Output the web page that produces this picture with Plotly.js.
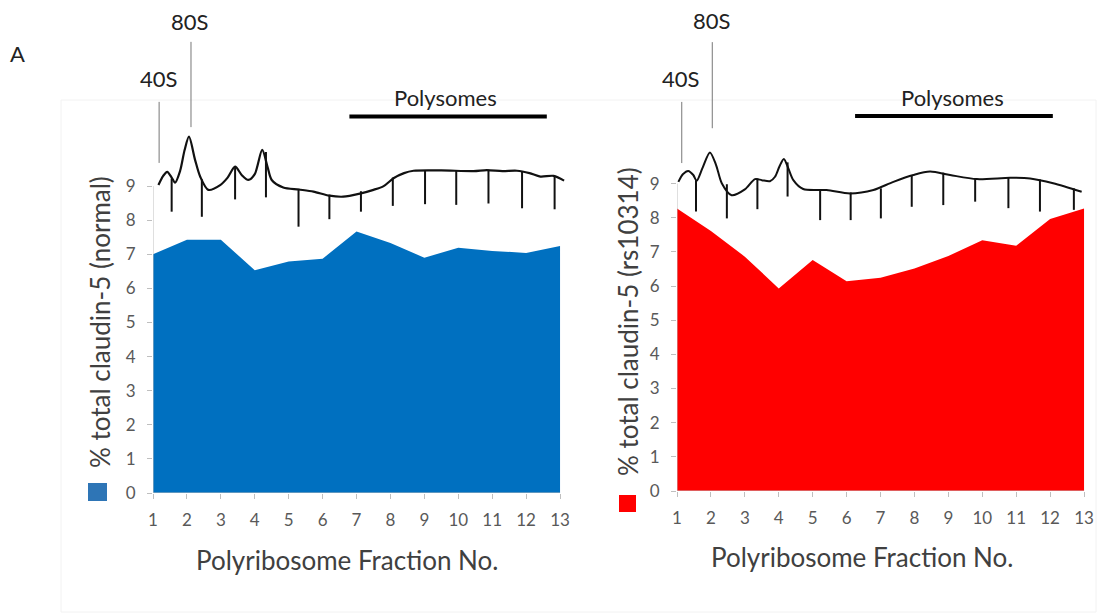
<!DOCTYPE html>
<html>
<head>
<meta charset="utf-8">
<script src="https://cdn.plot.ly/plotly-3.0.1.min.js"></script>
<style>html,body{margin:0;padding:0;background:#fff;}#chart{width:1097px;height:613px;}</style>
</head>
<body>
<div id="chart"></div>
<script>
// ---- data ----
const fractions = [1,2,3,4,5,6,7,8,9,10,11,12,13];
const xTickLabels = ['1','2','3','4','5','6','7','8','9','10','11','12','13'];
const yTickVals = [0,1,2,3,4,5,6,7,8,9];
const normalPct = [7.0, 7.43, 7.43, 6.53, 6.79, 6.87, 7.67, 7.33, 6.9, 7.19, 7.1, 7.04, 7.24];
const rsPct     = [8.27, 7.61, 6.86, 5.93, 6.76, 6.14, 6.24, 6.51, 6.88, 7.34, 7.18, 7.96, 8.27];

// absorbance profile traces (drawn on the same scale)
const profNormX = [1.16,1.30,1.42,1.55,1.65,1.80,1.93,2.06,2.24,2.39,2.63,2.98,3.20,3.42,3.62,3.81,4.00,4.22,4.38,4.50,4.84,5.30,5.73,6.20,6.61,7.10,7.50,7.80,8.09,8.40,8.68,9.50,10.45,10.84,11.30,11.73,12.10,12.42,12.81,13.12];
const profNormY = [9.03,9.30,9.42,9.25,9.10,9.45,10.05,10.45,9.77,9.28,8.89,9.03,9.25,9.57,9.32,9.18,9.35,10.06,9.55,9.18,8.96,8.90,8.84,8.72,8.69,8.78,8.89,9.00,9.23,9.38,9.45,9.46,9.44,9.47,9.44,9.45,9.38,9.28,9.30,9.16];
const profRsX = [1.04,1.18,1.33,1.48,1.58,1.75,1.97,2.15,2.32,2.61,3.00,3.30,3.50,3.74,3.89,4.02,4.15,4.28,4.43,4.72,5.41,6.10,6.79,7.38,7.97,8.46,9.05,9.84,10.82,11.41,12.09,12.93];
const profRsY = [9.05,9.28,9.37,9.25,9.08,9.45,9.91,9.55,9.01,8.66,8.83,9.13,9.10,9.07,9.20,9.50,9.72,9.45,9.10,8.84,8.81,8.71,8.81,9.05,9.25,9.35,9.25,9.13,9.17,9.15,9.01,8.76];

// fraction collection marks on the profiles
const markNormX   = [1.55,2.44,3.42,4.33,5.29,6.20,7.13,8.07,9.02,9.94,10.89,11.88,12.84];
const markNormTop = [9.22,9.20,9.57,10.0,8.92,8.75,8.85,9.25,9.47,9.46,9.48,9.44,9.30];
const markNormBot = [8.25,8.10,8.61,8.67,7.81,8.03,8.25,8.42,8.47,8.45,8.49,8.35,8.32];
const markRsX   = [1.56,2.47,3.37,4.26,5.22,6.12,7.01,7.92,8.85,9.79,10.77,11.70,12.70];
const markRsTop = [9.10,8.98,9.15,9.62,8.84,8.74,8.86,9.25,9.32,9.16,9.18,9.12,8.86];
const markRsBot = [8.18,7.98,8.25,8.62,7.93,7.93,7.98,8.32,8.37,8.47,8.28,8.18,8.23];

// polysome bars (fraction range)
const polyNormX = [6.79, 12.61];
const polyNormY = [11.04, 11.04];
const polyRsX = [6.25, 12.08];
const polyRsY = [10.98, 10.98];

// peak marker lines
const peakNorm40X = [1.18,1.18], peakNorm40Y = [11.47,9.68];
const peakNorm80X = [2.12,2.12], peakNorm80Y = [13.23,10.73];
const peakRs40X = [1.14,1.14], peakRs40Y = [11.39,9.60];
const peakRs80X = [2.04,2.04], peakRs80Y = [13.14,10.62];

// ---- helpers ----
function marks(xs, tops, bots){
  const x=[], y=[];
  xs.forEach((v,i)=>{ x.push(v,v,null); y.push(tops[i],bots[i],null); });
  return {x,y};
}
const mN = marks(markNormX, markNormTop, markNormBot);
const mR = marks(markRsX, markRsTop, markRsBot);

const FONT = "Lato, 'Open Sans', sans-serif";
const AXC = '#BFBFBF';

const traces = [
  {x:fractions, y:normalPct, type:'scatter', mode:'lines', fill:'tozeroy', fillcolor:'#0070C0', line:{width:0,color:'#0070C0'}, xaxis:'x', yaxis:'y', hoverinfo:'skip'},
  {x:fractions, y:rsPct, type:'scatter', mode:'lines', fill:'tozeroy', fillcolor:'#FF0000', line:{width:0,color:'#FF0000'}, xaxis:'x2', yaxis:'y2', hoverinfo:'skip'},
  {x:profNormX, y:profNormY, type:'scatter', mode:'lines', line:{color:'#111',width:2.2,shape:'spline',smoothing:0.8}, xaxis:'x', yaxis:'y'},
  {x:profRsX, y:profRsY, type:'scatter', mode:'lines', line:{color:'#111',width:2,shape:'spline',smoothing:0.8}, xaxis:'x2', yaxis:'y2'},
  {x:mN.x, y:mN.y, type:'scatter', mode:'lines', line:{color:'#111',width:2}, xaxis:'x', yaxis:'y', connectgaps:false},
  {x:mR.x, y:mR.y, type:'scatter', mode:'lines', line:{color:'#111',width:2}, xaxis:'x2', yaxis:'y2', connectgaps:false},
  {x:polyNormX, y:polyNormY, type:'scatter', mode:'lines', line:{color:'#000',width:4}, xaxis:'x', yaxis:'y'},
  {x:polyRsX, y:polyRsY, type:'scatter', mode:'lines', line:{color:'#000',width:4}, xaxis:'x2', yaxis:'y2'},
  {x:peakNorm40X, y:peakNorm40Y, type:'scatter', mode:'lines', line:{color:'#777',width:1}, xaxis:'x', yaxis:'y'},
  {x:peakNorm80X, y:peakNorm80Y, type:'scatter', mode:'lines', line:{color:'#777',width:1}, xaxis:'x', yaxis:'y'},
  {x:peakRs40X, y:peakRs40Y, type:'scatter', mode:'lines', line:{color:'#777',width:1}, xaxis:'x2', yaxis:'y2'},
  {x:peakRs80X, y:peakRs80Y, type:'scatter', mode:'lines', line:{color:'#777',width:1}, xaxis:'x2', yaxis:'y2'}
];

const W=1097, H=613;
const px = v => v/W, py = v => 1 - v/H;

const xCommon = {tickvals:fractions, ticktext:xTickLabels, ticks:'outside', ticklen:5, tickcolor:AXC, tickwidth:1,
  showline:false, showgrid:false, zeroline:false, tickfont:{family:FONT,size:17,color:'#595959'}, ticklabelstandoff:7, fixedrange:true};
const yCommon = {tickvals:yTickVals, ticks:'outside', ticklen:5, tickcolor:AXC, tickwidth:1,
  showline:false, showgrid:false, zeroline:false, tickfont:{family:FONT,size:17,color:'#595959'}, ticklabelstandoff:8, fixedrange:true};

function ann(o){ return Object.assign({showarrow:false, xanchor:'center', yanchor:'middle'}, o); }
const labFont = {family:FONT,size:22,color:'#222'};
const titleFont = {family:FONT,size:26,color:'#404040'};

const layout = {
  width:W, height:H,
  margin:{l:0,r:0,t:0,b:0},
  paper_bgcolor:'#fff', plot_bgcolor:'rgba(0,0,0,0)',
  showlegend:false,
  font:{family:FONT},
  xaxis: Object.assign({}, xCommon, {domain:[px(153), px(580)], range:[1, 1+(580-153)/33.92], anchor:'y'}),
  yaxis: Object.assign({}, yCommon, {domain:[py(493), 1], range:[0, 493/34.1], anchor:'x'}),
  xaxis2: Object.assign({}, xCommon, {domain:[px(677), 1], range:[1, 1+(1097-677)/33.92], anchor:'y2'}),
  yaxis2: Object.assign({}, yCommon, {domain:[py(491), 1], range:[0, 491/34.16], anchor:'x2'}),
  shapes:[
    {type:'rect', xref:'paper', yref:'paper', x0:px(61), x1:px(1096), y0:py(100), y1:py(612), line:{color:'#F2F2F2',width:1}, fillcolor:'rgba(0,0,0,0)', layer:'below'},
    {type:'line', xref:'x', yref:'y', x0:1, x1:1, y0:0, y1:9, line:{color:AXC,width:1}},
    {type:'line', xref:'x', yref:'y', x0:1, x1:13, y0:0, y1:0, line:{color:AXC,width:1}},
    {type:'line', xref:'x2', yref:'y2', x0:1, x1:1, y0:0, y1:9, line:{color:AXC,width:1}},
    {type:'line', xref:'x2', yref:'y2', x0:1, x1:13, y0:0, y1:0, line:{color:AXC,width:1}},
    {type:'rect', xref:'paper', yref:'paper', x0:px(88), x1:px(107), y0:py(501), y1:py(483), fillcolor:'#2E75B6', line:{width:0}},
    {type:'rect', xref:'paper', yref:'paper', x0:px(619), x1:px(636), y0:py(512), y1:py(495), fillcolor:'#FF0000', line:{width:0}}
  ],
  annotations:[
    ann({text:'A', xref:'paper', yref:'paper', x:px(17), y:py(53), font:labFont}),
    ann({text:'40S', xref:'x', yref:'y', x:1.15, y:12.17, font:labFont}),
    ann({text:'80S', xref:'x', yref:'y', x:2.09, y:13.84, font:labFont}),
    ann({text:'Polysomes', xref:'x', yref:'y', x:9.61, y:11.6, font:labFont}),
    ann({text:'40S', xref:'x2', yref:'y2', x:1.09, y:12.09, font:labFont}),
    ann({text:'80S', xref:'x2', yref:'y2', x:2.02, y:13.76, font:labFont}),
    ann({text:'Polysomes', xref:'x2', yref:'y2', x:9.11, y:11.53, font:labFont}),
    ann({text:'% total claudin-5 (normal)', xref:'paper', yref:'paper', x:px(100), y:py(322), textangle:-90, font:titleFont}),
    ann({text:'% total claudin-5 (rs10314)', xref:'paper', yref:'paper', x:px(628), y:py(322), textangle:-90, font:titleFont}),
    ann({text:'Polyribosome Fraction No.', xref:'paper', yref:'paper', x:px(347), y:py(560), font:titleFont}),
    ann({text:'Polyribosome Fraction No.', xref:'paper', yref:'paper', x:px(862), y:py(557), font:titleFont})
  ]
};

Plotly.newPlot('chart', traces, layout, {displayModeBar:false, staticPlot:true});
</script>
</body>
</html>
